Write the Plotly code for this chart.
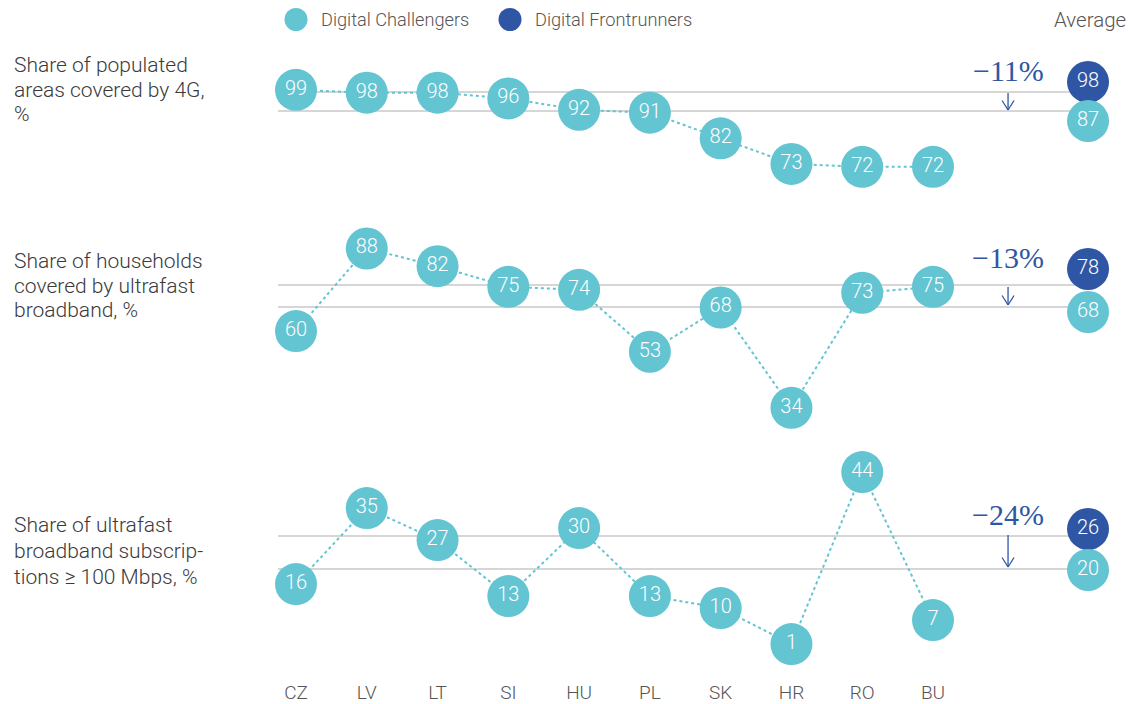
import plotly.graph_objects as go

# ---------------- data ----------------
countries = ["CZ", "LV", "LT", "SI", "HU", "PL", "SK", "HR", "RO", "BU"]
coverage_4g = [99, 98, 98, 96, 92, 91, 82, 73, 72, 72]
ultrafast_coverage = [60, 88, 82, 75, 74, 53, 68, 34, 73, 75]
ultrafast_subscriptions = [16, 35, 27, 13, 30, 13, 10, 1, 44, 7]
avg_frontrunners = [98, 78, 26]
avg_challengers = [87, 68, 20]
gap_labels = ["−11%", "−13%", "−24%"]
panel_labels = [
    ["Share of populated", "areas covered by 4G,", "%"],
    ["Share of households", "covered by ultrafast", "broadband, %"],
    ["Share of ultrafast", "broadband subscrip-", "tions ≥ 100 Mbps, %"],
]
legend_names = ["Digital Challengers", "Digital Frontrunners"]
average_label = "Average"

# ---------------- style / layout ----------------
W, H = 1137, 704
OFF = 8  # page body margin of the html page
TEAL = "#63C4D2"
NAVY = "#2F56A4"
GREY_LINE = "#C9C9C9"
TEXT = "#3A3A3A"
SUB = "#555555"
FONT = "Roboto"
SERIF = "Liberation Serif"


def px_x(p):
    return (p - OFF) / W


def px_y(p):
    return 1 - (p - OFF) / H


def y_range(v_anchor, px_anchor, scale):
    r1 = v_anchor + (px_anchor - OFF) / scale
    return [r1 - H / scale, r1]


X_STEP = 70.78
x0 = -(296 - OFF) / X_STEP
X_RANGE = [x0, x0 + W / X_STEP]
x_positions = list(range(len(countries)))
AVG_X = 11.19
ARROW_X = 10.06
LINE_START = -0.254

series = [coverage_4g, ultrafast_coverage, ultrafast_subscriptions]
main_ranges = [y_range(87.3, 123.2, 2.85), y_range(68.2, 306.9, 2.95), y_range(19.6, 569.7, 4.0)]
avg_ranges = [y_range(98, 82, 3.545), y_range(78, 269, 4.3), y_range(26, 529, 6.833)]
line_offsets = [(-10, 10), (-16, 5), (-7, 1)]   # px offsets of grey lines from circle centres
text_shift = [12, 12, 15]
arrow_tip = [11, 7, 3]      # px above the challenger circle centre
arrow_len = [17, 18, 32]
HEAD_W, HEAD_H = 6, 9.5
label_lines_y = [[65, 90, 114], [261, 286, 310], [525, 551, 577]]

fig = go.Figure()
shapes = []
annotations = []

for i, vals in enumerate(series):
    ymain = "y" if i == 0 else f"y{2 * i + 1}"
    yavg = f"y{2 * i + 2}"
    # connector dotted line
    fig.add_trace(go.Scatter(
        x=x_positions, y=vals, xaxis="x", yaxis=ymain, mode="lines",
        line=dict(color=TEAL, width=2, dash="dot"), hoverinfo="skip", showlegend=False))
    # country circles
    fig.add_trace(go.Scatter(
        x=x_positions, y=vals, xaxis="x", yaxis=ymain, mode="markers+text",
        marker=dict(size=42, color=TEAL, line=dict(width=0)),
        text=[str(v) for v in vals], textposition="middle center",
        textfont=dict(color="white", size=20, family=FONT, weight=300),
        showlegend=False, hoverinfo="skip"))
    # average circles
    fig.add_trace(go.Scatter(
        x=[AVG_X, AVG_X], y=[avg_frontrunners[i], avg_challengers[i]],
        xaxis="x", yaxis=yavg, mode="markers+text",
        marker=dict(size=42, color=[NAVY, TEAL], line=dict(width=0)),
        text=[str(avg_frontrunners[i]), str(avg_challengers[i])],
        textposition="middle center",
        textfont=dict(color="white", size=20, family=FONT, weight=300),
        showlegend=False, hoverinfo="skip"))
    # grey average lines
    for val, off in zip([avg_frontrunners[i], avg_challengers[i]], line_offsets[i]):
        shapes.append(dict(
            type="line", xref="x", yref=yavg, ysizemode="pixel", yanchor=val,
            x0=LINE_START, x1=AVG_X, y0=off, y1=off,
            line=dict(color=GREY_LINE, width=1.6), layer="below"))
    # gap text
    annotations.append(dict(
        x=ARROW_X, y=avg_frontrunners[i], xref="x", yref=yavg, yshift=text_shift[i],
        text=gap_labels[i], showarrow=False,
        font=dict(family=SERIF, size=30, color=NAVY), xanchor="center", yanchor="middle"))
    # arrow: shaft + open V head
    tip = arrow_tip[i]
    segs = [(0, tip + arrow_len[i], 0, tip),
            (-HEAD_W, tip + HEAD_H, 0, tip),
            (HEAD_W, tip + HEAD_H, 0, tip)]
    for sx0, sy0, sx1, sy1 in segs:
        shapes.append(dict(
            type="line", xref="x", yref=yavg,
            xsizemode="pixel", xanchor=ARROW_X,
            ysizemode="pixel", yanchor=avg_challengers[i],
            x0=sx0, y0=sy0, x1=sx1, y1=sy1,
            line=dict(color=NAVY, width=1.3)))
    # panel label (one annotation per line)
    for line_text, ly in zip(panel_labels[i], label_lines_y[i]):
        annotations.append(dict(
            x=px_x(12), y=px_y(ly), xref="paper", yref="paper",
            text=line_text, showarrow=False, align="left",
            xanchor="left", yanchor="middle",
            font=dict(family=FONT, size=21, color=TEXT, weight=300)))

# legend (manual)
legend_items = [(296, 319, TEAL), (510, 533, NAVY)]
for (cx, tx, col), name in zip(legend_items, legend_names):
    shapes.append(dict(type="circle", xref="paper", yref="paper",
                       x0=px_x(cx - 11.5), x1=px_x(cx + 11.5),
                       y0=px_y(19.5 + 11.5), y1=px_y(19.5 - 11.5),
                       fillcolor=col, line=dict(width=0)))
    annotations.append(dict(x=px_x(tx), y=px_y(19.5), xref="paper", yref="paper",
                            text=name, showarrow=False, xanchor="left", yanchor="middle",
                            font=dict(family=FONT, size=18.2, color=SUB, weight=300)))
annotations.append(dict(x=px_x(1089.5), y=px_y(19.5), xref="paper", yref="paper",
                        text=average_label, showarrow=False, xanchor="center", yanchor="middle",
                        font=dict(family=FONT, size=20.5, color=SUB, weight=300)))

layout = dict(
    width=W, height=H,
    margin=dict(l=0, r=0, t=0, b=0),
    paper_bgcolor="white", plot_bgcolor="white",
    showlegend=False,
    shapes=shapes, annotations=annotations,
    xaxis=dict(range=X_RANGE, tickvals=x_positions, ticktext=countries,
               showgrid=False, zeroline=False, showline=False, ticks="",
               anchor="free", position=(704 - 671) / H,
               tickfont=dict(family=FONT, size=19, color=SUB, weight=300),
               fixedrange=True),
)
all_ranges = []
for i in range(3):
    all_ranges.append(main_ranges[i])
    all_ranges.append(avg_ranges[i])
for k, rng in enumerate(all_ranges):
    key = "yaxis" if k == 0 else f"yaxis{k + 1}"
    ax = dict(range=rng, domain=[0, 1], visible=False, fixedrange=True,
              showgrid=False, zeroline=False)
    if k > 0:
        ax["overlaying"] = "y"
    layout[key] = ax

fig.update_layout(**layout)
fig.write_html("out.html")
